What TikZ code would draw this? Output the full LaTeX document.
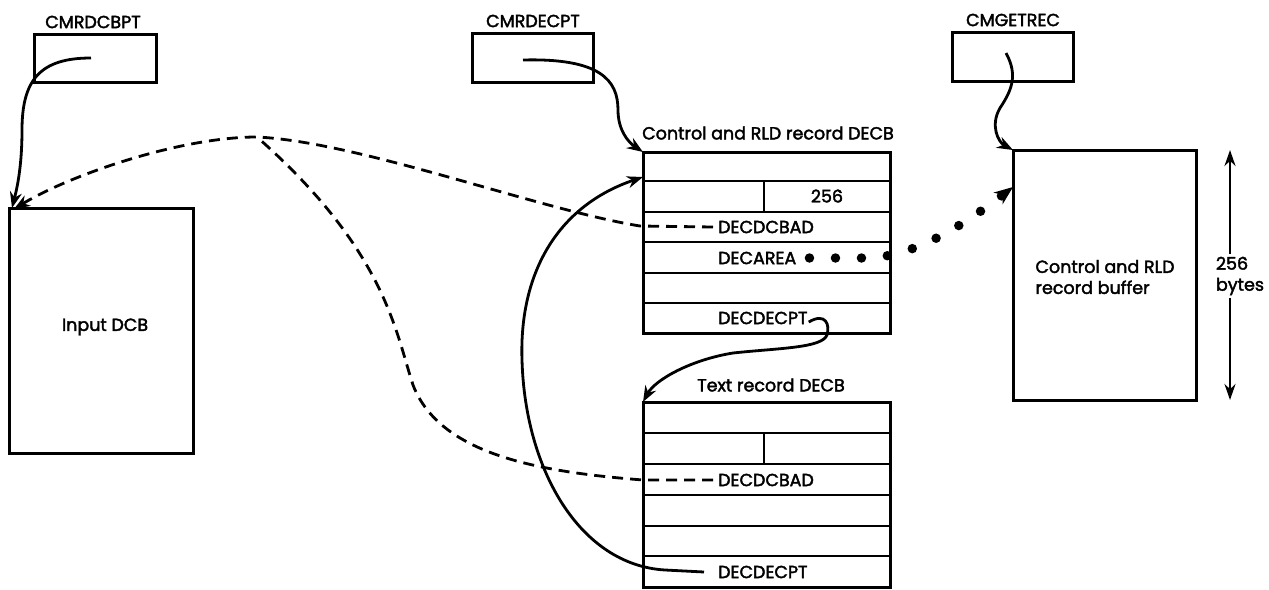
\documentclass[tikz,border=0pt]{standalone}
\usepackage{fontspec}
\setmainfont{Poppins}[FakeBold=2.2]
\usetikzlibrary{arrows.meta,calc}
\begin{document}
\begin{tikzpicture}[x=1pt,y=-1pt,
  box/.style={draw, line width=3pt, inner sep=0pt, outer sep=0pt, anchor=north west},
  rule/.style={line width=2.6pt},
  lbl/.style={font=\fontsize{17.5}{21}\selectfont, inner sep=0pt},
  fld/.style={lbl, anchor=west},
  tip/.style={-{Stealth[length=16pt,width=12pt]}},
  link/.style={line width=2.8pt, tip},
  dlink/.style={line width=2.8pt, dash pattern=on 11pt off 7pt},
  dotlink/.style={line width=9.5pt, line cap=round, dash pattern=on 0pt off 26pt,
    -{Stealth[length=19pt,width=15pt,line width=0pt]}},
]
\useasboundingbox (0,0) rectangle (1269,589);

% pointer words
\node[box, minimum width=122pt, minimum height=48pt] (dcbpt) at (34,34) {};
\node[lbl] (dcbptname) at (93,22) {CMRDCBPT};
\node[box, minimum width=121pt, minimum height=49pt] (decpt) at (472,33) {};
\node[lbl] (decptname) at (533,21) {CMRDECPT};
\node[box, minimum width=121pt, minimum height=49pt] (getrec) at (952,32) {};
\node[lbl] (getrecname) at (1013,20) {CMGETREC};

% input DCB
\node[box, minimum width=184pt, minimum height=245pt] (dcb) at (9,208) {};
\node[lbl] (dcbname) at (105,327) {Input DCB};

% control and RLD record DECB
\node[box, minimum width=247pt, minimum height=181pt] (ctl) at (643,152) {};
\node[lbl] (ctlname) at (768,133) {Control and RLD record DECB};
\foreach \yy in {181,212,242,273,303} \draw[rule] (643,\yy) -- (890,\yy);
\draw[rule] (764,181) -- (764,212);
\node[lbl] (ctllen) at (827,196) {256};
\node[fld] (ctldcbad) at (718,227) {DECDCBAD};
\node[fld] (ctlarea) at (718,258) {DECAREA};
\node[fld] (ctldecpt) at (718,318) {DECDECPT};

% text record DECB
\node[box, minimum width=247pt, minimum height=185pt] (txt) at (643,402) {};
\node[lbl] (txtname) at (771,385) {Text record DECB};
\foreach \yy in {433,464,495,526,556} \draw[rule] (643,\yy) -- (890,\yy);
\draw[rule] (764,433) -- (764,464);
\node[fld] (txtdcbad) at (718,480) {DECDCBAD};
\node[fld] (txtdecpt) at (718,572) {DECDECPT};

% record buffer
\node[box, minimum width=183pt, minimum height=250pt] (buf) at (1013,150) {};
\node[lbl, align=left] (bufname) at (1105,277) {Control and RLD\\record buffer};

% buffer length
\coordinate (lentop) at (1230,150);
\coordinate (lenbot) at (1230,400);
\draw[line width=2.8pt, {Stealth[length=16pt,width=11pt]}-{Stealth[length=16pt,width=11pt]}] (lentop) -- (lenbot);
\node[lbl, align=left, fill=white, inner sep=3pt] (lenname) at (1240,276) {256\\bytes};

% pointer arrows
\coordinate (p1) at (91,58);
\draw[link] (p1) .. controls (40,58) and (22,80) .. (22,130)
  .. controls (22,170) and (16,192) .. ([xshift=3pt]dcb.north west);

\coordinate (p2) at (523,60);
\draw[link] (p2) .. controls (600,58) and (618,80) .. (618,110)
  .. controls (618,130) and (628,142) .. (ctl.north west);

\coordinate (p3) at (1006,53);
\draw[link] (p3) .. controls (1018,75) and (1012,90) .. (1000,108)
  .. controls (990,125) and (998,142) .. (buf.north west);

% DCB address links (dashed)
\coordinate (peak) at (257,137);
\draw[dlink, tip] ([xshift=-5pt]ctldcbad.west) -- (640,226)
  .. controls (540,210) and (360,142) .. (peak)
  .. controls (180,137) and (70,175) .. ([xshift=5pt,yshift=-1pt]dcb.north west);
\draw[dlink] ([xshift=-5pt]txtdcbad.west) -- (643,480)
  .. controls (540,472) and (440,455) .. (413,385)
  .. controls (395,330) and (385,250) .. (peak);

% DECB chain
\draw[link] ([xshift=1pt,yshift=-4pt]ctldecpt.east) .. controls (826,312) and (830,325) .. (827,335)
  .. controls (822,348) and (780,348) .. (733,353)
  .. controls (690,360) and (655,380) .. (txt.north west);
\draw[link] ([xshift=-14pt]txtdecpt.west) -- (665,570)
  .. controls (580,565) and (525,470) .. (522,360)
  .. controls (519,270) and (560,205) .. ($(ctl.north west)+(0,25)$);

% buffer address (dotted)
\draw[dotlink] ([xshift=13pt]ctlarea.east) -- (870,258)
  .. controls (920,255) and (970,220) .. ($(buf.north west)+(0,37)$);
\end{tikzpicture}
\end{document}
